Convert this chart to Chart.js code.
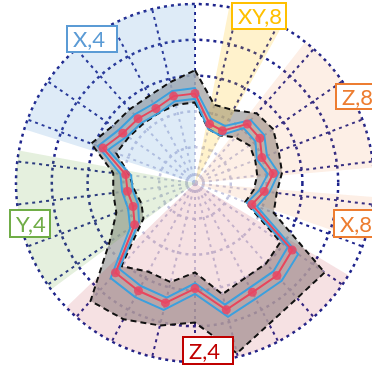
<!DOCTYPE html>
<html>
<head>
<meta charset="utf-8">
<script src="https://cdn.jsdelivr.net/npm/chart.js@4.4.1/dist/chart.umd.min.js"></script>
<style>
  html, body { margin: 0; padding: 0; background: #fff; overflow: hidden; }
  .chart-container { width: 372px; height: 369px; overflow: hidden; }
</style>
</head>
<body>
<div class="chart-container"><canvas id="canvas" width="380" height="369"></canvas></div>
<script>
//! ------------------------ data ------------------------
// 26 spokes, first one at 12 o'clock, going clockwise
const categories = ["1", "2", "3", "4", "5", "6", "7", "8", "9", "10", "11", "12", "13",
  "14", "15", "16", "17", "18", "19", "20", "21", "22", "23", "24", "25", "26"];
const midValues = [50, 34, 33, 44, 44, 40, 44, 39, 34, 66, 69, 69, 73, 59, 69, 68, 67, 41, 37, 38, 39, 55, 49, 48, 47, 50];
const blueUpper = [53, 37, 36, 47, 47, 43, 47, 42, 37, 70, 73, 73, 77, 62, 73, 72, 71, 44, 40, 41, 42, 58, 52, 51, 50, 53];
const blueLower = [47, 31, 30, 41, 41, 37, 41, 36, 31, 63, 66, 66, 70, 56, 66, 65, 64, 38, 34, 35, 36, 52, 46, 45, 44, 47];
const bandUpper = [63, 45, 46, 52, 53, 50, 49, 46, 47, 88, 86, 89, 98, 78, 82, 86, 88, 58, 47, 46, 46, 62, 56, 55, 55, 58];
const bandLower = [45, 31, 30, 34, 37, 36, 35, 33, 30, 58, 60, 60, 64, 50, 57, 56, 62, 35, 32, 34, 37, 47, 45, 44, 44, 45];

// background sectors, clockwise from the top (empty name = white gap)
const sectorNames = ["", "XY,8", "", "Z,8", "", "X,8", "", "Z,4", "", "Y,4", "", "X,4"];
const sectorAngles = [11, 18, 9, 47, 9.5, 14.5, 12, 105, 7.5, 47, 7, 72.5];
const sectorReach = [100, 100, 100, 100, 100, 100, 100, 100, 100, 100, 100, 100];
const sectorColors = [
  "rgba(255,255,255,0)", "rgba(255,192,0,0.2)", "rgba(255,255,255,0)", "rgba(237,125,49,0.12)",
  "rgba(255,255,255,0)", "rgba(237,125,49,0.12)", "rgba(255,255,255,0)", "rgba(192,40,60,0.14)",
  "rgba(255,255,255,0)", "rgba(112,173,71,0.18)", "rgba(255,255,255,0)", "rgba(91,155,213,0.2)",
];

const scaleMax = 100;
const scaleStep = 20;

//! ------------------------ label boxes ------------------------
const boxSpots = {
  "X,4": { x: 67, y: 26, w: 50, h: 26, color: "#5b9bd5" },
  "XY,8": { x: 232, y: 3, w: 54, h: 26, color: "#ffc000" },
  "Z,8": { x: 336, y: 84, w: 42, h: 25, color: "#ed7d31" },
  "X,8": { x: 334, y: 210, w: 42, h: 27, color: "#ed7d31" },
  "Z,4": { x: 183, y: 337, w: 50, h: 27, color: "#c00000" },
  "Y,4": { x: 10, y: 210, w: 40, h: 27, color: "#70ad47" },
};

const boxPlugin = {
  id: "sectorBoxes",
  afterDraw(chart) {
    const ctx = chart.ctx;
    ctx.save();
    sectorNames.filter((n) => n !== "").forEach((name) => {
      const b = boxSpots[name];
      ctx.fillStyle = "#fff";
      ctx.fillRect(b.x, b.y, b.w, b.h);
      ctx.strokeStyle = b.color;
      ctx.lineWidth = 2;
      ctx.strokeRect(b.x, b.y, b.w, b.h);
      ctx.fillStyle = b.color;
      ctx.font = "22px Lato";
      ctx.textBaseline = "middle";
      ctx.textAlign = "left";
      ctx.fillText(name, b.x + 6, b.y + b.h / 2 + 1);
    });
    ctx.restore();
  },
};

//! ------------------------ chart ------------------------
const lineSet = (data, color, width, order, extra) =>
  Object.assign(
    {
      data: data,
      borderColor: color,
      borderWidth: width,
      backgroundColor: "transparent",
      pointRadius: 0,
      fill: false,
      order: order,
    },
    extra || {}
  );

const gridColor = "rgb(30,36,140)";

const datasets = [
  lineSet(midValues, "rgb(232,70,92)", 2, 1, {
    pointRadius: 4.5,
    pointBackgroundColor: "rgba(232,70,100,0.85)",
    pointBorderWidth: 0,
  }),
  lineSet(blueUpper, "rgb(60,160,222)", 2, 2),
  lineSet(blueLower, "rgb(60,160,222)", 2, 2),
  lineSet(bandUpper, "#111", 2, 3, { borderDash: [6, 4] }),
  lineSet(bandLower, "#111", 2, 3, { borderDash: [6, 4] }),
  {
    type: "polarArea",
    data: sectorReach,
    angle: sectorAngles,
    backgroundColor: sectorColors,
    borderWidth: 0,
    order: 8,
  },
  // grey band between the dashed lines
  lineSet(bandUpper, "transparent", 0, 9, {
    fill: { target: 4 },
    backgroundColor: "rgba(100,100,100,0.45)",
  }),
  // pale wash over the inner grid
  lineSet(bandUpper, "transparent", 0, 10, {
    fill: "origin",
    backgroundColor: "rgba(255,255,255,0.74)",
  }),
];

new Chart(document.getElementById("canvas"), {
  type: "radar",
  data: { labels: categories, datasets: datasets },
  options: {
    responsive: false,
    animation: false,
    layout: { padding: { left: 16, right: 6, top: 4, bottom: 7 } },
    plugins: { legend: { display: false }, tooltip: { enabled: false } },
    elements: { line: { tension: 0 } },
    scales: {
      r: {
        min: 0,
        max: scaleMax,
        startAngle: 0,
        ticks: { display: false, stepSize: scaleStep },
        pointLabels: { display: false },
        grid: { circular: true, color: gridColor, lineWidth: 2.5 },
        border: { dash: [3, 4] },
        angleLines: { display: true, color: gridColor, lineWidth: 2, borderDash: [3, 4] },
      },
    },
  },
  plugins: [boxPlugin],
});
</script>
</body>
</html>
